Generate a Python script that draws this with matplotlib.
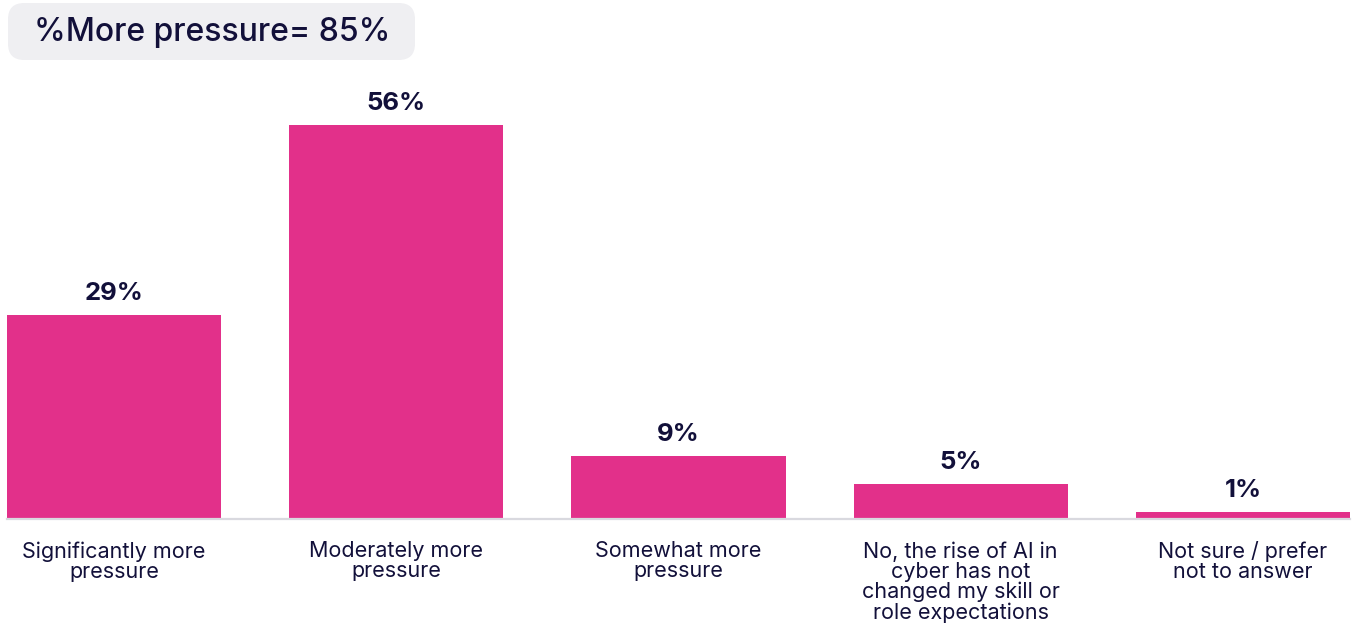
import matplotlib.pyplot as plt
from matplotlib.patches import FancyBboxPatch

categories = [
    "Significantly more\npressure",
    "Moderately more\npressure",
    "Somewhat more\npressure",
    "No, the rise of AI in\ncyber has not\nchanged my skill or\nrole expectations",
    "Not sure / prefer\nnot to answer",
]
values = [29, 56, 9, 5, 1]
value_labels = ["29%", "56%", "9%", "5%", "1%"]
headline = "%More pressure= 85%"

BAR = "#E2308A"
TEXT = "#12103A"
GRID = "#D9D9DF"
BOX = "#EFEFF2"

plt.rcParams["font.family"] = ["Inter", "DejaVu Sans"]

W, H = 1354, 626
fig = plt.figure(figsize=(W / 100, H / 100), dpi=100)

# axes spans the bars horizontally; baseline at y=519 px
left, right = 7, 1350
bottom, top = 519, 80
ax = fig.add_axes([left / W, 1 - bottom / H, (right - left) / W, (bottom - top) / H])

width = 0.759
x = list(range(len(values)))
ax.bar(x, values, width=width, color=BAR, zorder=2)
ax.set_xlim(-width / 2, len(values) - 1 + width / 2)
ax.set_ylim(0, 56 * (bottom - top) / 394)

for xi, v, lab in zip(x, values, value_labels):
    ax.annotate(lab, (xi, v), xytext=(0, 7), textcoords="offset points",
                ha="center", va="bottom", fontsize=18.5, fontweight="bold", color=TEXT)

for s in ["top", "right", "left"]:
    ax.spines[s].set_visible(False)
ax.spines["bottom"].set_color(GRID)
ax.spines["bottom"].set_linewidth(1.6)
ax.set_yticks([])
ax.set_xticks(x)
ax.set_xticklabels(categories, fontsize=15.5, color=TEXT, linespacing=1.0)
ax.tick_params(axis="x", length=0, pad=16)

# headline badge
box = FancyBboxPatch((8 / W, 1 - 60 / H), 407 / W, 57 / H,
                     boxstyle="round,pad=0,rounding_size=0.012",
                     transform=fig.transFigure, facecolor=BOX, edgecolor="none",
                     mutation_aspect=W / H)
fig.patches.append(box)
fig.text(212 / W, 1 - 32 / H, headline, ha="center", va="center",
         fontsize=23, fontweight="medium", color=TEXT)

fig.savefig("out.png", dpi=100)
